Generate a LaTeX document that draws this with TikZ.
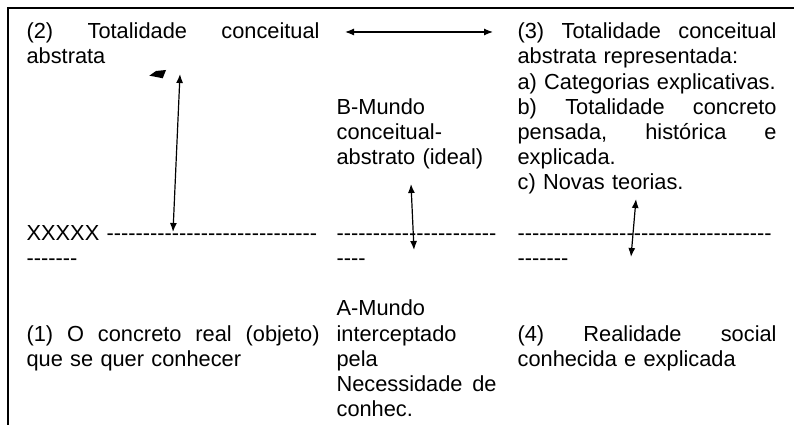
\documentclass[tikz,border=0pt]{standalone}
\usepackage{fontspec}
\setmainfont{Liberation Sans}
\usetikzlibrary{arrows.meta}
\tikzset{every picture/.style={>={Latex[length=9pt,width=7pt]},line width=1.2pt}}
\tikzset{coltext/.style={anchor=north west,inner sep=0pt,font=\fontsize{21.8}{25.2}\selectfont}}
\tikzset{frame lines/.style={line width=2pt}}
\newcommand{\jline}[2]{\leavevmode\hbox to #1{#2}}
\newcommand{\hifens}[1]{\foreach \i in {1,...,#1}{-}}

\begin{document}
\begin{tikzpicture}[x=1pt,y=-1pt]
      \useasboundingbox (0,0) rectangle (794,425);
      \draw [frame lines] (8.3,425) -- (8.3,8.3) -- (794,8.3);
      % top row
      \node[coltext,text width=293pt] (tot) at (26,20.4) {\strut\jline{293pt}{(2)\hfill Totalidade\hfill conceitual}\\abstrata};
      \node[coltext,text width=160pt] (mundoB) at (336,96) {\strut B-Mundo\\conceitual-\\abstrato (ideal)};
      \node[coltext,text width=259pt] (totrep) at (517,20.4) {\strut\jline{259pt}{(3)\hfill Totalidade\hfill conceitual}\\abstrata representada:\\a) Categorias explicativas.\\\jline{259pt}{b)\hfill Totalidade\hfill concreto}\\\jline{259pt}{pensada,\hfill hist\'orica\hfill e}\\explicada.\\c) Novas teorias.};
      % dashed row
      \node[coltext,text width=293pt] (xx) at (26,222) {\strut XXXXX \hifens{29}\\\hifens{7}};
      \node[coltext,text width=160pt] (tracoB) at (336,222) {\strut\hifens{22}\\\hifens{4}};
      \node[coltext,text width=259pt] (tracoC) at (517,222) {\strut\hifens{35}\\\hifens{7}};
      % bottom row
      \node[coltext,text width=293pt] (real) at (26,322.8) {\strut\jline{293pt}{(1)\hfill O\hfill concreto\hfill real\hfill (objeto)}\\que se quer conhecer};
      \node[coltext,text width=160pt] (mundoA) at (336,297.6) {\strut A-Mundo\\interceptado\\pela\\\jline{160pt}{Necessidade\hfill de}\\conhec.};
      \node[coltext,text width=259pt] (social) at (517,322.8) {\strut\jline{259pt}{(4)\hfill Realidade\hfill social}\\conhecida e explicada};
      % arrows
      \coordinate (hl) at (345,32);
      \coordinate (hr) at (493,32);
      \coordinate (t1) at (180,74);
      \coordinate (b1) at (173,232);
      \coordinate (t2) at (411,184);
      \coordinate (b2) at (414,250);
      \coordinate (t3) at (636,199);
      \coordinate (b3) at (631,257);
      \draw[<->] (hl) -- (hr);
      \draw[<->] (t1) -- (b1);
      \draw[<->] (t2) -- (b2);
      \draw[<->] (t3) -- (b3);
      \fill (149.3,75.7) -- (156,71) -- (166,70) -- (162.7,78.3) -- (155,76.7) -- cycle;
    \end{tikzpicture}
\end{document}
